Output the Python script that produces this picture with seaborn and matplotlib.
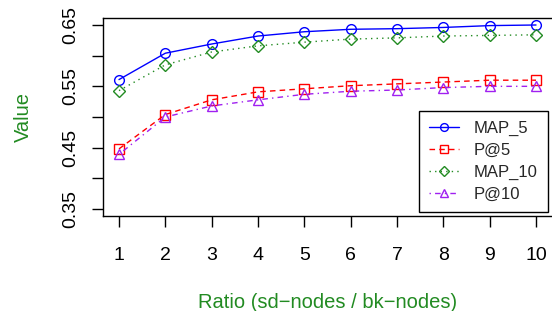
import matplotlib
matplotlib.use("Agg")
import matplotlib.pyplot as plt
import seaborn as sns
import pandas as pd

ratio = [1, 2, 3, 4, 5, 6, 7, 8, 9, 10]
map_5 = [0.561, 0.604, 0.619, 0.632, 0.639, 0.643, 0.644, 0.646, 0.649, 0.650]
p_5 = [0.448, 0.504, 0.528, 0.541, 0.546, 0.551, 0.554, 0.557, 0.560, 0.560]
map_10 = [0.543, 0.585, 0.606, 0.616, 0.622, 0.627, 0.629, 0.632, 0.633, 0.634]
p_10 = [0.439, 0.500, 0.518, 0.528, 0.537, 0.542, 0.544, 0.548, 0.550, 0.550]
series_names = ["MAP_5", "P@5", "MAP_10", "P@10"]
y_ticks = [0.35, 0.40, 0.45, 0.50, 0.55, 0.60, 0.65]
y_tick_labels = ["0.35", "", "0.45", "", "0.55", "", "0.65"]

sns.set_theme(style="ticks")
plt.rcParams['font.family'] = ['Liberation Sans', 'DejaVu Sans']

df = pd.DataFrame({"ratio": ratio, "MAP_5": map_5, "P@5": p_5,
                   "MAP_10": map_10, "P@10": p_10})

styles = {
    "MAP_5": dict(color="#0000FF", marker="o", linestyle="-"),
    "P@5": dict(color="#FF0000", marker="s", linestyle=(0, (4, 3))),
    "MAP_10": dict(color="#228B22", marker="D", linestyle=(0, (1, 3))),
    "P@10": dict(color="#A020F0", marker="^", linestyle=(0, (1, 3, 4, 3))),
}

fig = plt.figure(figsize=(5.52, 3.11), dpi=100)
ax = fig.add_axes([103 / 552, 1 - 216 / 311, 449 / 552, 198 / 311])

for name in series_names:
    st = styles[name]
    sns.lineplot(data=df, x="ratio", y=name, ax=ax, label=name,
                 color=st["color"], marker=st["marker"], linestyle=st["linestyle"],
                 markersize=7 if st["marker"] != "D" else 6,
                 markerfacecolor="none", markeredgecolor=st["color"],
                 markeredgewidth=1.0, linewidth=1.0)

ax.set_xlim(0.655, 10.345)
ax.set_ylim(0.3386, 0.6614)
ax.set_xticks(ratio)
ax.set_yticks(y_ticks)
ax.set_yticklabels(y_tick_labels, rotation=90, va="center")
ax.tick_params(axis="both", labelsize=14, length=8, width=1, color="black", labelcolor="black")
ax.tick_params(axis="x", pad=14)
ax.tick_params(axis="y", pad=9)

for s in ["left", "bottom", "top"]:
    ax.spines[s].set_visible(True)
    ax.spines[s].set_color("black")
    ax.spines[s].set_linewidth(1)
ax.spines["right"].set_visible(False)

ax.set_xlabel("Ratio (sd\u2212nodes / bk\u2212nodes)", fontsize=14.5, color="#228B22", labelpad=21)
ax.set_ylabel("Value", fontsize=14.5, color="#228B22", labelpad=21)

leg = ax.legend(loc="lower right", bbox_to_anchor=(0.99, 0.02), fontsize=12,
                frameon=True, fancybox=False, edgecolor="black", framealpha=1,
                borderpad=0.6, labelspacing=0.42, handlelength=1.8, handletextpad=0.85,
                borderaxespad=0, markerscale=0.8)
leg.get_frame().set_linewidth(1)

fig.savefig("out.png", dpi=100)
